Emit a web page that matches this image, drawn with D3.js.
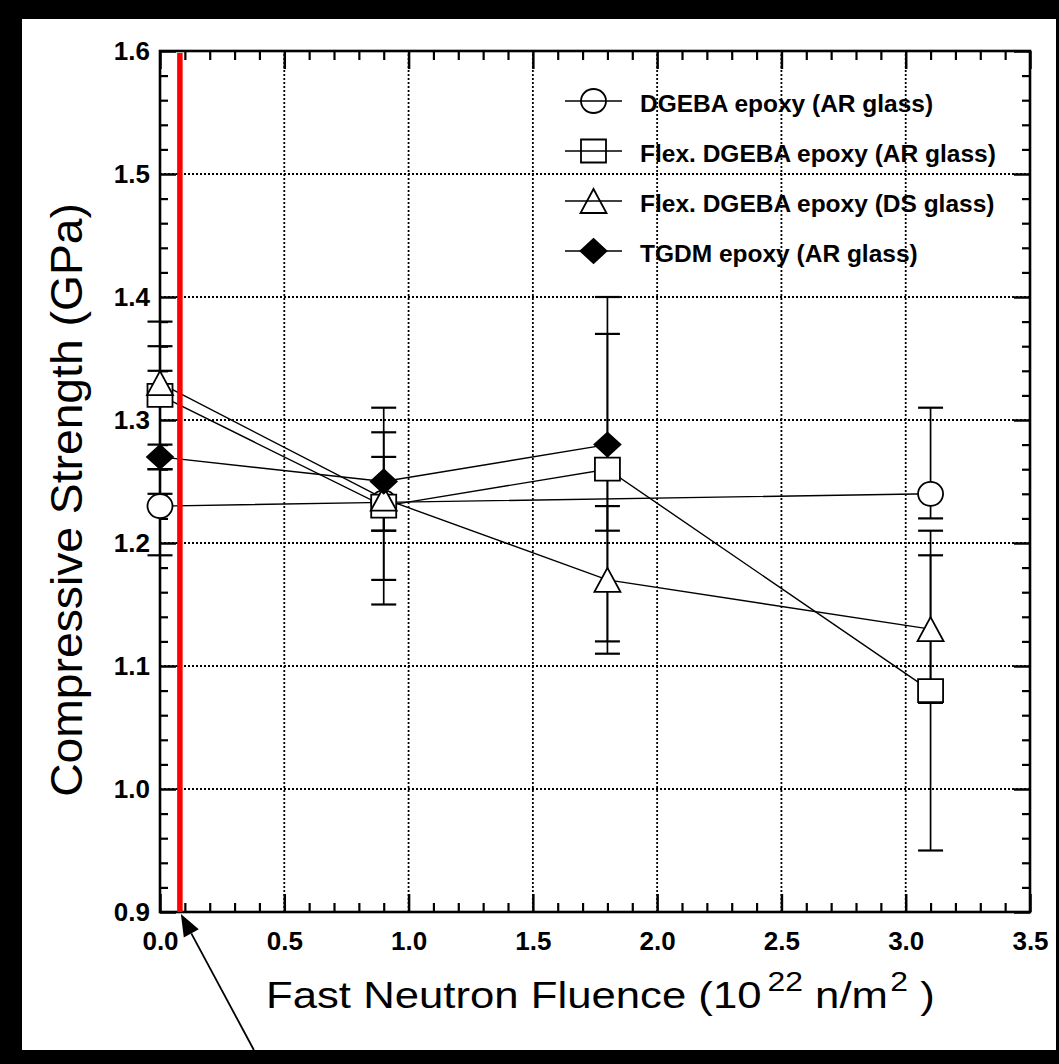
<!DOCTYPE html>
<html>
<head>
<meta charset="utf-8">
<script src="https://cdn.jsdelivr.net/npm/d3@7"></script>
<style>
  html, body { margin: 0; padding: 0; background: #000; }
  svg { display: block; }
</style>
</head>
<body>
<script>
// Fluence values (10^22 n/m^2) at which specimens were tested
const fluence = [0.0, 0.9, 1.8, 3.1];

// Compressive strength (GPa); null = not measured at that fluence
const dgebaAR     = [1.23, 1.233, null, 1.24];
const dgebaARLow  = [1.19, 1.21, null, 1.22];
const dgebaARHigh = [1.26, 1.25, null, 1.31];

const flexAR      = [1.32, 1.23, 1.26, 1.08];
const flexARLow   = [1.26, 1.15, 1.12, 0.95];
const flexARHigh  = [1.36, 1.31, 1.40, 1.21];

const flexDS      = [1.33, 1.236, 1.17, 1.13];
const flexDSLow   = [1.28, 1.17, 1.11, 1.07];
const flexDSHigh  = [1.38, 1.27, 1.23, 1.19];

const tgdmAR      = [1.27, 1.25, 1.28, null];
const tgdmARLow   = [1.24, 1.21, 1.21, null];
const tgdmARHigh  = [1.34, 1.29, 1.37, null];

const seriesNames = [
  "DGEBA epoxy (AR glass)",
  "Flex. DGEBA epoxy (AR glass)",
  "Flex. DGEBA epoxy (DS glass)",
  "TGDM epoxy (AR glass)"
];
const seriesShapes = ["circle", "square", "triangle", "diamond"];

const xTicks = [0.0, 0.5, 1.0, 1.5, 2.0, 2.5, 3.0, 3.5];
const yTicks = [0.9, 1.0, 1.1, 1.2, 1.3, 1.4, 1.5, 1.6];

// Highlighted fluence level (red marker line)
const markedFluence = 0.08;

const xTitle = "Fast Neutron Fluence (10";
const yTitle = "Compressive Strength (GPa)";

// ---------------------------------------------------------------
const W = 1059, H = 1064;
const FONT = "'Liberation Sans', Arial, Helvetica, sans-serif";

const series = [
  { v: dgebaAR, lo: dgebaARLow, hi: dgebaARHigh },
  { v: flexAR,  lo: flexARLow,  hi: flexARHigh },
  { v: flexDS,  lo: flexDSLow,  hi: flexDSHigh },
  { v: tgdmAR,  lo: tgdmARLow,  hi: tgdmARHigh }
].map((s, i) => ({
  name: seriesNames[i],
  shape: seriesShapes[i],
  points: fluence.map((f, j) => ({ f, v: s.v[j], lo: s.lo[j], hi: s.hi[j] }))
                 .filter(p => p.v !== null)
}));

const svg = d3.select("body").append("svg")
  .attr("width", W).attr("height", H)
  .attr("font-family", FONT);

// page: black frame around a white sheet
svg.append("rect").attr("width", W).attr("height", H).attr("fill", "#000");
svg.append("rect").attr("x", 22).attr("y", 19).attr("width", 1034).attr("height", 1031).attr("fill", "#fff");

const x = d3.scaleLinear().domain([0, 3.5]).range([160, 1030]);
const y = d3.scaleLinear().domain([0.9, 1.6]).range([912, 51]);

const xMinor = d3.range(1, 35).filter(i => i % 5 !== 0).map(i => i / 10);
const yMinor = d3.range(1, 35).filter(i => i % 5 !== 0).map(i => 0.9 + i * 0.02);

// dotted grid at the major ticks
const grid = svg.append("g").attr("stroke", "#000").attr("stroke-width", 1.8)
  .attr("stroke-dasharray", "2,2");
grid.selectAll("line.gx").data(xTicks.slice(1, -1)).join("line")
  .attr("x1", d => x(d)).attr("x2", d => x(d))
  .attr("y1", y(0.9)).attr("y2", y(1.6));
grid.selectAll("line.gy").data(yTicks.slice(1, -1)).join("line")
  .attr("y1", d => y(d)).attr("y2", d => y(d))
  .attr("x1", x(0)).attr("x2", x(3.5));

// axes: inward ticks on all four sides
function styleAxis(g, sw) {
  g.select(".domain").remove();
  g.selectAll(".tick line").attr("stroke", "#000").attr("stroke-width", sw);
  g.selectAll(".tick text").attr("fill", "#000").attr("font-family", FONT)
    .attr("font-size", 26).attr("font-weight", "bold");
}
const fmt = d3.format(".1f");

svg.append("g").attr("transform", `translate(0,${y(0.9)})`)
  .call(d3.axisBottom(x).tickValues(xTicks).tickSize(-18).tickPadding(20).tickFormat(fmt))
  .call(g => styleAxis(g, 2.5));
svg.append("g").attr("transform", `translate(0,${y(0.9)})`)
  .call(d3.axisBottom(x).tickValues(xMinor).tickSize(-9).tickFormat(""))
  .call(g => styleAxis(g, 2.2));
svg.append("g").attr("transform", `translate(0,${y(1.6)})`)
  .call(d3.axisTop(x).tickValues(xTicks).tickSize(-18).tickFormat(""))
  .call(g => styleAxis(g, 2.5));
svg.append("g").attr("transform", `translate(0,${y(1.6)})`)
  .call(d3.axisTop(x).tickValues(xMinor).tickSize(-9).tickFormat(""))
  .call(g => styleAxis(g, 2.2));

svg.append("g").attr("transform", `translate(${x(0)},0)`)
  .call(d3.axisLeft(y).tickValues(yTicks).tickSize(-16).tickPadding(10).tickFormat(fmt))
  .call(g => styleAxis(g, 2.5));
svg.append("g").attr("transform", `translate(${x(0)},0)`)
  .call(d3.axisLeft(y).tickValues(yMinor).tickSize(-8).tickFormat(""))
  .call(g => styleAxis(g, 2.2));
svg.append("g").attr("transform", `translate(${x(3.5)},0)`)
  .call(d3.axisRight(y).tickValues(yTicks).tickSize(-16).tickFormat(""))
  .call(g => styleAxis(g, 2.5));
svg.append("g").attr("transform", `translate(${x(3.5)},0)`)
  .call(d3.axisRight(y).tickValues(yMinor).tickSize(-8).tickFormat(""))
  .call(g => styleAxis(g, 2.2));

// plot frame
svg.append("rect")
  .attr("x", x(0)).attr("y", y(1.6))
  .attr("width", x(3.5) - x(0)).attr("height", y(0.9) - y(1.6))
  .attr("fill", "none").attr("stroke", "#000").attr("stroke-width", 2.6);

// error bars
const capW = 12.5;
const eb = svg.append("g").attr("stroke", "#000").attr("stroke-width", 1.7);
series.forEach(s => {
  s.points.forEach(p => {
    eb.append("line").attr("x1", x(p.f)).attr("x2", x(p.f))
      .attr("y1", y(p.lo)).attr("y2", y(p.hi));
    [p.lo, p.hi].forEach(v => {
      eb.append("line").attr("x1", x(p.f) - capW).attr("x2", x(p.f) + capW)
        .attr("y1", y(v)).attr("y2", y(v)).attr("stroke-width", 2.2);
    });
  });
});

// connecting lines
const line = d3.line().x(p => x(p.f)).y(p => y(p.v));
series.forEach(s => {
  svg.append("path").datum(s.points).attr("d", line)
    .attr("fill", "none").attr("stroke", "#000").attr("stroke-width", 1.4);
});

// marker shapes, centred on (0,0)
function shapePath(shape) {
  switch (shape) {
    case "circle": return "M-12.5,0a12.5,12 0 1,0 25,0a12.5,12 0 1,0 -25,0Z";
    case "square": return "M-12.5,-11.5H12.5V11.5H-12.5Z";
    case "triangle": return "M0,-12L13,12L-13,12Z";
    case "diamond": return "M0,-12L13,0L0,12L-13,0Z";
  }
}
series.forEach(s => {
  svg.append("g").selectAll("path").data(s.points).join("path")
    .attr("transform", p => `translate(${x(p.f)},${y(p.v)})`)
    .attr("d", shapePath(s.shape))
    .attr("fill", s.shape === "diamond" ? "#000" : "#fff")
    .attr("stroke", "#000").attr("stroke-width", 1.8);
});

// legend
const lg = svg.append("g");
series.forEach((s, i) => {
  const ry = 101 + i * 50;
  lg.append("line").attr("x1", 565).attr("x2", 622).attr("y1", ry).attr("y2", ry)
    .attr("stroke", "#000").attr("stroke-width", 1.5);
  lg.append("path").attr("transform", `translate(593.5,${ry})`)
    .attr("d", shapePath(s.shape))
    .attr("fill", s.shape === "diamond" ? "#000" : "none")
    .attr("stroke", "#000").attr("stroke-width", 1.8);
  lg.append("text").attr("x", 640).attr("y", ry + 10.5)
    .attr("font-size", 24.5).attr("font-weight", "bold").attr("fill", "#000")
    .text(s.name);
});

// red marker line at the highlighted fluence, with a pointer arrow below the axis
svg.append("line")
  .attr("x1", x(markedFluence)).attr("x2", x(markedFluence))
  .attr("y1", y(1.6) + 2).attr("y2", y(0.9))
  .attr("stroke", "#ff0000").attr("stroke-width", 5.5);

const tip = [x(markedFluence) + 1, y(0.9) + 2];
const tail = [tip[0] + 73, 1050];
const dx = tip[0] - tail[0], dy = tip[1] - tail[1];
const len = Math.hypot(dx, dy), ux = dx / len, uy = dy / len;
const headL = 22, headW = 8.5;
const base = [tip[0] - ux * headL, tip[1] - uy * headL];
svg.append("line").attr("x1", tail[0]).attr("y1", tail[1])
  .attr("x2", base[0]).attr("y2", base[1])
  .attr("stroke", "#000").attr("stroke-width", 1.8);
svg.append("path")
  .attr("d", `M${tip[0]},${tip[1]}L${base[0] - uy * headW},${base[1] + ux * headW}L${base[0] + uy * headW},${base[1] - ux * headW}Z`)
  .attr("fill", "#000");

// axis titles
const xt = svg.append("text").attr("font-size", 37).attr("fill", "#000");
xt.append("tspan").text(xTitle);
xt.append("tspan").attr("font-size", 27).attr("dy", -17).attr("dx", 5).text("22");
xt.append("tspan").attr("dy", 17).text(" n/m");
xt.append("tspan").attr("font-size", 27).attr("dy", -17).attr("dx", 2).text("2");
xt.append("tspan").attr("dy", 17).text(" )");
const xtw = xt.node().getBBox().width;
xt.attr("transform", `translate(266,1008) scale(${669 / xtw},1)`);

const yt = svg.append("text").attr("font-size", 44).attr("fill", "#000")
  .attr("text-anchor", "middle").text(yTitle);
const ytw = yt.node().getBBox().width;
yt.attr("transform", `translate(82,500) rotate(-90) scale(${594 / ytw},1)`);
</script>
</body>
</html>
